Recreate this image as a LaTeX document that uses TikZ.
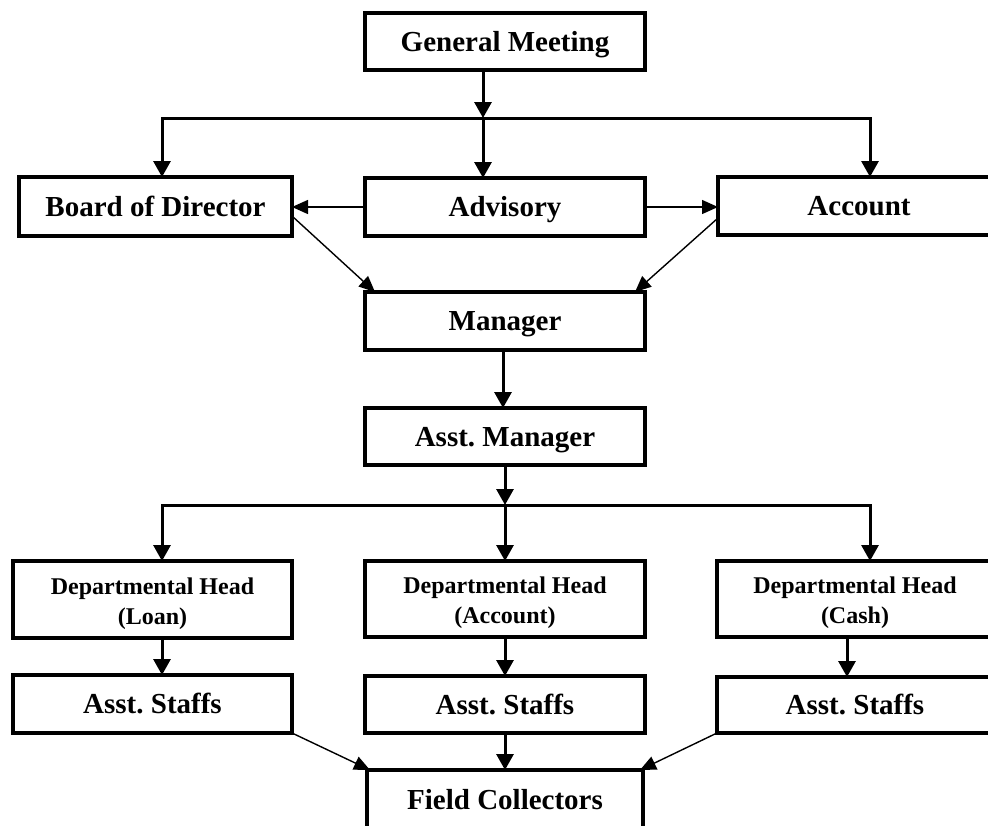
\documentclass[tikz,border=0pt]{standalone}
\usepackage{fontspec}
\setmainfont{Liberation Serif}
\frenchspacing
\usetikzlibrary{arrows.meta,calc}
\begin{document}
\begin{tikzpicture}[x=1pt,y=-1pt,
  box/.style={draw,line width=3.5pt,outer sep=0pt,inner sep=0pt,fill=white,
    font=\fontsize{29}{34}\selectfont\bfseries\frenchspacing,
    text height=19.5pt,text depth=0pt},
  dbox/.style={draw,line width=3.5pt,outer sep=0pt,inner sep=0pt,fill=white},
  dtext/.style={font=\fontsize{24}{30}\selectfont\bfseries\frenchspacing,
    align=center,inner sep=0pt,yshift=-4pt},
  tip/.style={-{Triangle[length=16pt,width=17pt]}},
  thk/.style={line width=3pt,tip},
  thkline/.style={line width=3pt},
  thn/.style={line width=1.4pt,-{Triangle[length=16pt,width=14pt]}}]
\clip (0,0) rectangle (988,825);
\fill[white] (0,0) rectangle (988,825);
% nodes
\node[box,minimum width=280pt,minimum height=57pt] (gm) at (505,41.5) {General Meeting};
\node[box,minimum width=273pt,minimum height=59pt] (board) at (155.5,206.5) {Board of Director};
\node[box,minimum width=280pt,minimum height=58pt] (adv) at (505,207) {Advisory};
\node[box,minimum width=282pt,minimum height=58pt] (acc) at (859,206) {Account};
\node[box,minimum width=280pt,minimum height=58pt] (mgr) at (505,321) {Manager};
\node[box,minimum width=280pt,minimum height=57pt] (amgr) at (505,436.5) {Asst. Manager};
\node[dbox,minimum width=279pt,minimum height=77pt,
  label={[dtext]center:{Departmental Head\\(Loan)}}] (dhl) at (152.5,599.5) {};
\node[dbox,minimum width=280pt,minimum height=76pt,
  label={[dtext]center:{Departmental Head\\(Account)}}] (dha) at (505,599) {};
\node[dbox,minimum width=276pt,minimum height=76pt,
  label={[dtext]center:{Departmental Head\\(Cash)}}] (dhc) at (855,599) {};
\node[box,minimum width=279pt,minimum height=58pt] (asl) at (152.5,704) {Asst. Staffs};
\node[box,minimum width=280pt,minimum height=57pt] (asa) at (505,704.5) {Asst. Staffs};
\node[box,minimum width=276pt,minimum height=56pt] (asc) at (855,705) {Asst. Staffs};
\node[box,minimum width=276pt,minimum height=60pt] (fc) at (505,800) {Field Collectors};
% junctions
\coordinate (j1) at (483,118);
\coordinate (j1L) at (162,118);
\coordinate (j1R) at (870,118);
\coordinate (j2) at (505,505);
\coordinate (j2L) at (162,505);
\coordinate (j2R) at (870,505);
\coordinate (cR) at (847,0);
% top fan-out
\draw[thk] (gm.south -| j1) -- (j1);
\draw[thkline,{Triangle[length=16pt,width=17pt]}-{Triangle[length=16pt,width=17pt]}]
  (j1L |- board.north) -- (j1L) -- (j1R) -- (j1R |- acc.north);
\draw[thk] (j1) -- (j1 |- adv.north);
% advisory sideways
\draw[thn] (adv.west) -- (adv.west -| board.east);
\draw[thn] (adv.east) -- (adv.east -| acc.west);
% to manager
\draw[thn] ($(board.south east)+(0,-20)$) -- ($(mgr.north west)+(10,0)$);
\draw[thn] ($(acc.south west)+(0,-17)$) -- ($(mgr.north east)+(-10,0)$);
\draw[thk] ($(mgr.south)+(-2,0)$) -- ($(amgr.north)+(-2,0)$);
% second fan-out
\draw[thk] (amgr.south) -- (j2);
\draw[thkline,{Triangle[length=16pt,width=17pt]}-{Triangle[length=16pt,width=17pt]}]
  (j2L |- dhl.north) -- (j2L) -- (j2R) -- (j2R |- dhc.north);
\draw[thk] (j2) -- (dha.north);
% heads to staffs
\draw[thk] (dhl.south -| j2L) -- (asl.north -| j2L);
\draw[thk] (dha.south) -- (asa.north);
\draw[thk] (dhc.south -| cR) -- (asc.north -| cR);
% staffs to field collectors
\draw[thk] (asa.south) -- (fc.north);
\draw[thn] (asl.south east) -- ($(fc.north west)+(3,0)$);
\draw[thn] (asc.south west) -- ($(fc.north east)+(-3,0)$);
\end{tikzpicture}
\end{document}
